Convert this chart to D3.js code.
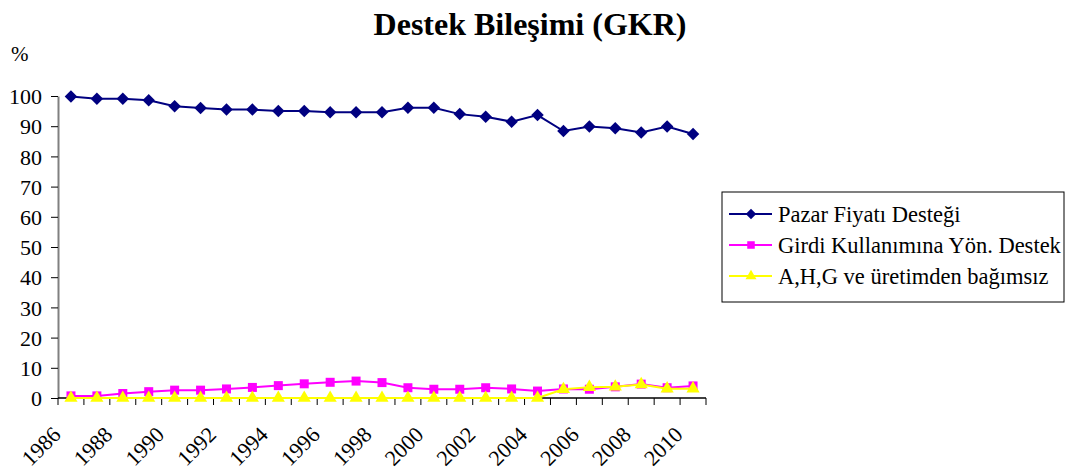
<!DOCTYPE html>
<meta charset="utf-8">
<style>
body { margin: 0; background: #fff; }
text { font-family: "Liberation Serif", "Times New Roman", serif; fill: #000; }
</style>
<svg width="1067" height="473"></svg>
<script src="https://d3js.org/d3.v7.min.js"></script>
<script>

var years = d3.range(1986, 2011);
var pazar = [99.8, 99.1, 99.1, 98.6, 96.6, 96.0, 95.5, 95.5, 95.0, 95.0, 94.6, 94.6, 94.6,
             96.1, 96.1, 94.0, 93.1, 91.5, 93.7, 88.4, 89.9, 89.3, 87.9, 89.9, 87.4];
var girdi = [0.7, 0.7, 1.5, 2.1, 2.6, 2.6, 3.0, 3.5, 4.1, 4.7, 5.2, 5.6, 5.1,
             3.4, 2.9, 2.9, 3.4, 3.0, 2.3, 3.0, 2.9, 3.7, 4.6, 3.4, 4.0];
var ahg = [0, 0, 0, 0, 0, 0, 0, 0, 0, 0, 0, 0, 0,
           0, 0, 0, 0, 0, 0, 2.9, 3.6, 3.7, 4.5, 3.1, 3.1];
var yTicks = [0, 10, 20, 30, 40, 50, 60, 70, 80, 90, 100];

var series = [
  {name: "Pazar Fiyatı Desteği", values: pazar, color: "#000080", shape: d3.symbolSquare, size: 78, rot: 45},
  {name: "Girdi Kullanımına Yön. Destek", values: girdi, color: "#ff00ff", shape: d3.symbolSquare, size: 81, rot: 0},
  {name: "A,H,G ve üretimden bağımsız", values: ahg, color: "#ffff00", shape: d3.symbolTriangle, size: 75, rot: 0}
];

var svg = d3.select("svg");

var x = d3.scaleBand().domain(years).range([58, 706]);
var y = d3.scaleLinear().domain([0, 100]).range([398, 96]);

// title
svg.append("text")
  .attr("x", 530).attr("y", 35)
  .attr("text-anchor", "middle")
  .style("font-size", "32px").style("font-weight", "bold")
  .text("Destek Bileşimi (GKR)");

svg.append("text")
  .attr("x", 11).attr("y", 61)
  .style("font-size", "21px")
  .text("%");

// y axis
var yAxis = svg.append("g")
  .attr("transform", "translate(58,0)")
  .call(d3.axisLeft(y).tickValues(yTicks).tickSize(7).tickSizeOuter(0));
yAxis.select(".domain").attr("stroke", "#808080").attr("stroke-width", 2);
yAxis.selectAll(".tick line").attr("stroke", "#000");
yAxis.selectAll("text")
  .attr("x", -16).attr("dy", "0.35em")
  .style("font-size", "22px").style("font-family", "Liberation Serif");

// x axis, ticks between categories
var xg = svg.append("g").attr("transform", "translate(0,398)");
xg.append("line")
  .attr("x1", 58).attr("x2", 706)
  .attr("stroke", "#000").attr("stroke-width", 1.5);
xg.selectAll("line.tk")
  .data(years.concat([2011]))
  .enter().append("line")
  .attr("class", "tk")
  .attr("x1", function(d) { return d === 2011 ? 706 : x(d); })
  .attr("x2", function(d) { return d === 2011 ? 706 : x(d); })
  .attr("y1", 0).attr("y2", 7)
  .attr("stroke", "#000");
xg.selectAll("text")
  .data(years.filter(function(d) { return d % 2 === 0; }))
  .enter().append("text")
  .attr("transform", function(d) {
    return "translate(" + (x(d) + x.bandwidth() / 2 - 9) + ",38) rotate(-45)";
  })
  .attr("text-anchor", "end")
  .style("font-size", "22px")
  .text(function(d) { return d; });

// lines and markers
var line = d3.line()
  .x(function(d, i) { return x(years[i]) + x.bandwidth() / 2; })
  .y(function(d) { return y(d); });

series.forEach(function(s) {
  svg.append("path")
    .datum(s.values)
    .attr("d", line)
    .attr("fill", "none")
    .attr("stroke", s.color)
    .attr("stroke-width", 2);
  svg.selectAll(null)
    .data(s.values)
    .enter().append("path")
    .attr("d", d3.symbol().type(s.shape).size(s.size))
    .attr("transform", function(d, i) {
      return "translate(" + (x(years[i]) + x.bandwidth() / 2) + "," + y(d) + ") rotate(" + s.rot + ")";
    })
    .attr("fill", s.color);
});

// legend
var lg = svg.append("g").attr("transform", "translate(722,192)");
lg.append("rect")
  .attr("width", 342).attr("height", 110)
  .attr("fill", "#fff").attr("stroke", "#000");
var item = lg.selectAll("g.item")
  .data(series)
  .enter().append("g")
  .attr("transform", function(d, i) { return "translate(0," + (22 + i * 31) + ")"; });
item.append("line")
  .attr("x1", 7).attr("x2", 50)
  .attr("stroke", function(d) { return d.color; })
  .attr("stroke-width", 2);
item.append("path")
  .attr("d", function(d) { return d3.symbol().type(d.shape).size(d.size * 0.7)(); })
  .attr("transform", function(d) { return "translate(29,0) rotate(" + d.rot + ")"; })
  .attr("fill", function(d) { return d.color; });
item.append("text")
  .attr("x", 56).attr("dy", "0.35em")
  .style("font-size", "22.5px")
  .text(function(d) { return d.name; });

</script>
